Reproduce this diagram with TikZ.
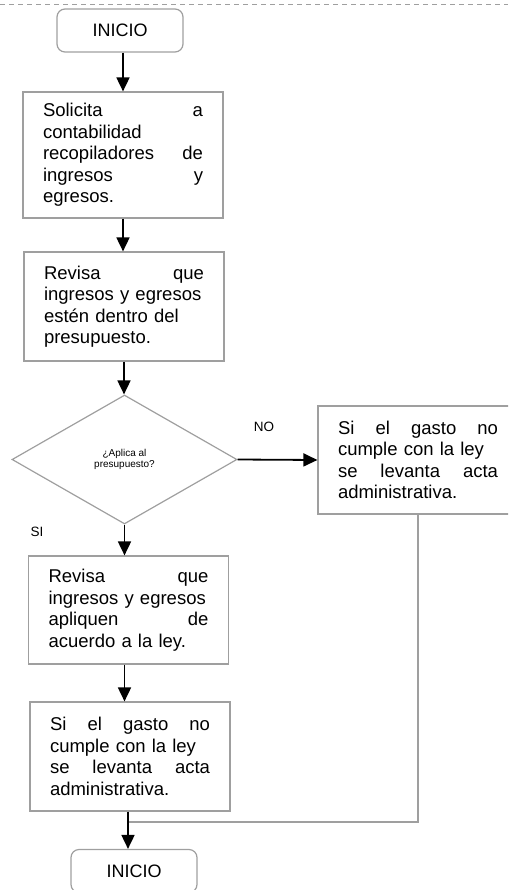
\documentclass[tikz,border=0pt]{standalone}
\usepackage{fontspec}
\setmainfont{Liberation Sans}
\usetikzlibrary{shapes.geometric,arrows.meta}

\begin{document}
\begin{tikzpicture}[x=1pt,y=-1pt,
    proc/.style={draw=gray!75,line width=1.2pt,fill=white,text width=160pt,inner xsep=20pt,inner ysep=0pt,align=left,font=\fontsize{18.5}{21.5}\selectfont},
    term/.style={draw=gray!75,line width=1.2pt,rounded corners=8pt,minimum width=126pt,minimum height=43pt,font=\fontsize{18}{21}\selectfont},
    flow/.style={line width=1.8pt,-{Triangle[length=14pt,width=13pt]}},
    back/.style={draw=gray!75,line width=1.5pt},
    lbl/.style={font=\fontsize{13.5}{16}\selectfont}]
    \clip (0,0) rectangle (508,890);
    \draw[gray!75,line width=1pt,dash pattern=on 5pt off 4pt] (0,5) to (508,5);

        \node[term] (ini) at (120,30.5){INICIO};
        \node[proc,minimum height=126pt] (sol) at (123,155){Solicita\hfill a\\contabilidad\\recopiladores\hfill de\\ingresos\hfill y\\egresos.};
        \node[proc,minimum height=109pt] (rev) at (124,306.5){Revisa\hfill que\\ingresos y egresos\\estén dentro del\\presupuesto.};
        \node[draw=gray!75,line width=1.2pt,shape=diamond,minimum width=225pt,minimum height=129pt,inner sep=0pt,align=center,font=\fontsize{10}{11}\selectfont] (dia) at (124.5,459.5){¿Aplica al\\presupuesto?};
        \node[proc,minimum height=108pt] (acta) at (418,460){Si\hfill el\hfill gasto\hfill no\\cumple con la ley\\se\hfill levanta\hfill acta\\administrativa.};
        \node[proc,minimum height=108pt] (apl) at (128.5,610){Revisa\hfill que\\ingresos y egresos\\apliquen\hfill de\\acuerdo a la ley.};
        \node[proc,minimum height=109pt] (ley) at (130,756.5){Si\hfill el\hfill gasto\hfill no\\cumple con la ley\\se\hfill levanta\hfill acta\\administrativa.};
        \node[term] (fin) at (134,871){INICIO};

        \node[lbl] (lblno) at (264,427){NO};
        \node[lbl] (lblsi) at (37,532){SI};

        \coordinate (join) at (128,822);

        \draw[flow] (sol.north |- ini.south) to (sol.north);
        \draw[flow] (sol.south) to (sol.south |- rev.north);
        \draw[flow] (rev.south) to (rev.south |- dia.north);
        \draw[flow] (dia.east) to (acta.west);
        \draw[flow] (dia.south) to (dia.south |- apl.north);
        \draw[flow] (dia.south |- apl.south) to (dia.south |- ley.north);
        \draw[back] (acta.south) |- (join);
        \draw[flow] (join |- ley.south) to (join |- fin.north);
    \end{tikzpicture}
\end{document}
